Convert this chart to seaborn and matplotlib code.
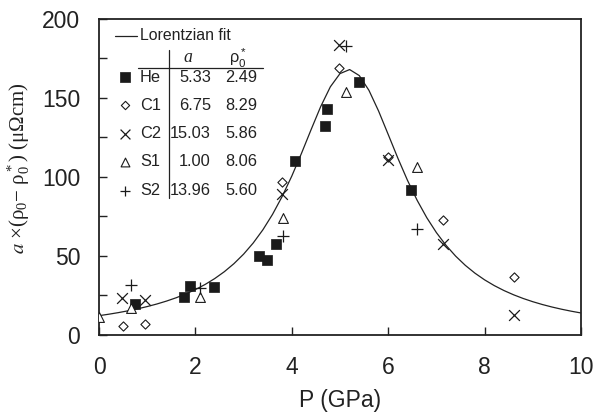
import numpy as np
import pandas as pd
import matplotlib
matplotlib.use("Agg")
import matplotlib.pyplot as plt
import seaborn as sns

# ---- data ----
he_x = [0.75, 1.77, 1.89, 2.38, 3.32, 3.49, 3.67, 4.06, 4.68, 4.73, 5.39, 6.47]
he_y = [19.4, 23.7, 30.8, 30.2, 49.9, 47.3, 57.6, 110.1, 131.9, 143.3, 160.0, 91.6]
c1_x = [0.49, 0.96, 3.80, 4.97, 5.99, 7.14, 8.61]
c1_y = [5.5, 6.6, 96.6, 169.0, 112.7, 72.4, 36.7]
c2_x = [0.48, 0.96, 3.80, 4.98, 5.99, 7.14, 8.61]
c2_y = [23.4, 22.2, 89.0, 183.4, 110.4, 57.4, 12.5]
s1_x = [0.00, 0.66, 2.09, 3.81, 5.12, 6.60]
s1_y = [11.0, 17.0, 23.7, 74.0, 153.5, 106.3]
s2_x = [0.66, 2.10, 3.82, 5.13, 6.60]
s2_y = [31.5, 29.7, 62.7, 182.7, 66.7]

series_names = ["He", "C1", "C2", "S1", "S2"]
a_values = ["5.33", "6.75", "15.03", "1.00", "13.96"]
rho_values = ["2.49", "8.29", "5.86", "8.06", "5.60"]

# Lorentzian fit parameters
fit_xc, fit_w, fit_A, fit_y0 = 5.18, 1.44, 168.0, 0.0

sns.set_theme(style="white")
plt.rcParams['font.family'] = ['Liberation Sans', 'DejaVu Sans']
plt.rcParams['mathtext.fontset'] = 'custom'
plt.rcParams['mathtext.rm'] = 'Liberation Sans'
plt.rcParams['mathtext.it'] = 'Liberation Serif:italic'
plt.rcParams['mathtext.default'] = 'regular'

fig = plt.figure(figsize=(5.96, 4.12), dpi=100)
ax = fig.add_axes([99/596, 1-334.7/412, 482/596, 315.7/412])

# fit curve
xf = np.arange(0, 10.01, 0.2)
yf = fit_y0 + fit_A / (1 + ((xf - fit_xc) / fit_w) ** 2)
sns.lineplot(x=xf, y=yf, ax=ax, color='#222222', lw=0.9, estimator=None, sort=False)

styles = {
    "He": dict(marker='s', s=60, color='#1a1a1a', edgecolor='#1a1a1a', linewidth=0.5),
    "C1": dict(marker='D', s=22, facecolor='white', edgecolor='#1a1a1a', linewidth=0.8),
    "C2": dict(marker='x', s=60, color='#1a1a1a', linewidth=0.9),
    "S1": dict(marker='^', s=50, facecolor='white', edgecolor='#1a1a1a', linewidth=0.8),
    "S2": dict(marker='+', s=75, color='#1a1a1a', linewidth=0.9),
}
data = {"He": (he_x, he_y), "C1": (c1_x, c1_y), "C2": (c2_x, c2_y),
        "S1": (s1_x, s1_y), "S2": (s2_x, s2_y)}
for name in series_names:
    xs, ys = data[name]
    sns.scatterplot(x=xs, y=ys, ax=ax, zorder=3, **styles[name])

FS = 16.5
ax.set_xlim(0, 10)
ax.set_ylim(0, 200)
ax.set_xticks([0, 2, 4, 6, 8, 10])
ax.set_yticks([0, 50, 100, 150, 200])
ax.set_yticks(np.arange(0, 201, 25), minor=True)
ax.tick_params(axis='both', which='both', direction='in', length=6, width=1.0,
               colors='#222222', labelsize=FS, top=False, right=False, left=True, bottom=True)
ax.tick_params(axis='x', pad=15.3)
ax.tick_params(axis='y', pad=13.5)
for sp in ax.spines.values():
    sp.set_linewidth(1.3)
    sp.set_color('#222222')

ax.set_xlabel("P (GPa)", fontsize=FS, color='#222222')
ax.xaxis.set_label_coords(0.5, (334.7 - 388.7) / 315.7)
ax.set_ylabel(r"$\mathit{a}$ ×(ρ$_0$− ρ$_0^*$) (μΩcm)", fontsize=15, color='#222222',
              family=['Liberation Serif', 'DejaVu Serif'], math_fontfamily='stix')
ax.yaxis.set_label_coords((32 - 99) / 482, (334.7 - 168) / 315.7)

# ---- legend table ----
def P(px, py):
    return ((px - 99) / 482.0, (334.7 - py) / 315.7)

T = ax.transAxes
fs = 11.8
ax.plot([P(115, 0)[0], P(137, 0)[0]], [P(0, 36)[1]] * 2, transform=T, color='#222222', lw=0.9, clip_on=False)
ax.text(*P(140, 36), "Lorentzian fit", transform=T, fontsize=fs - 0.4, va='center', ha='left', color='#222222')
ax.text(*P(188, 58), r"$\mathit{a}$", transform=T, fontsize=fs + 1, va='center', ha='center', color='#222222')
ax.text(*P(238, 58), r"ρ$_0^*$", transform=T, fontsize=fs, va='center', ha='center', color='#222222')
ax.plot([P(138, 0)[0], P(263, 0)[0]], [P(0, 67.5)[1]] * 2, transform=T, color='#222222', lw=0.9)
ax.plot([P(168.5, 0)[0]] * 2, [P(0, 50)[1], P(0, 198)[1]], transform=T, color='#222222', lw=0.9)

row_y = [77.3, 105.3, 133.5, 162, 190.5]
leg_sizes = {"He": 45, "C1": 18, "C2": 50, "S1": 40, "S2": 60}
for i, name in enumerate(series_names):
    st = dict(styles[name])
    st['s'] = leg_sizes[name]
    mx, my = P(125, row_y[i])
    ax.scatter([mx], [my], transform=T, clip_on=False, zorder=4, **st)
    ax.text(*P(140, row_y[i]), name, transform=T, fontsize=fs, va='center', ha='left', color='#222222')
    ax.text(*P(211, row_y[i]), a_values[i], transform=T, fontsize=fs, va='center', ha='right', color='#222222')
    ax.text(*P(225, row_y[i]), rho_values[i], transform=T, fontsize=fs, va='center', ha='left', color='#222222')

fig.savefig("out.png", dpi=100)
